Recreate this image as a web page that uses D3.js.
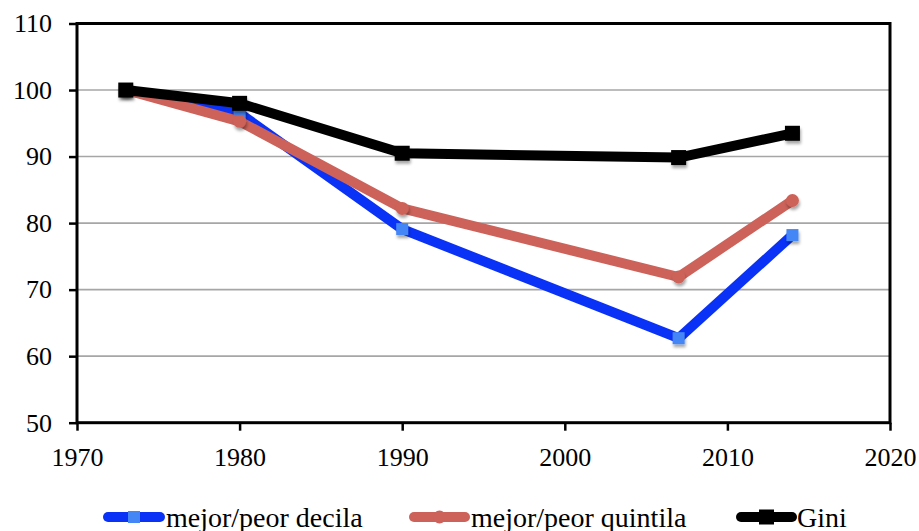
<!DOCTYPE html>
<html>
<head>
<meta charset="utf-8">
<script src="https://cdn.jsdelivr.net/npm/d3@7/dist/d3.min.js"></script>
<style>
  html, body { margin: 0; padding: 0; background: #fff; }
  svg { display: block; }
  text { font-family: "Liberation Serif", "DejaVu Serif", serif; fill: #000; }
</style>
</head>
<body>
<svg id="chart" width="919" height="531"></svg>
<script>
// Index values (1973 = 100)
const years = [1973, 1980, 1990, 2007, 2014];
const decila = [100, 96.5, 79.1, 62.7, 78.2];
const quintila = [100, 95.3, 82.2, 71.9, 83.4];
const gini = [100, 98.0, 90.5, 89.85, 93.5];

const seriesNames = ["mejor/peor decila", "mejor/peor quintila", "Gini"];
const xTicks = [1970, 1980, 1990, 2000, 2010, 2020];
const yTicks = [50, 60, 70, 80, 90, 100, 110];

const svg = d3.select("#chart");
const plot = { left: 77, right: 890, top: 23.5, bottom: 422.7 };

const x = d3.scaleLinear().domain([1970, 2020]).range([plot.left, plot.right]);
const y = d3.scaleLinear().domain([50, 110]).range([plot.bottom, plot.top]);

// Drop shadow for markers
const defs = svg.append("defs");
const f = defs.append("filter").attr("id", "shadow")
  .attr("x", "-50%").attr("y", "-50%").attr("width", "200%").attr("height", "200%");
f.append("feDropShadow").attr("dx", 1).attr("dy", 3)
  .attr("stdDeviation", 1.8).attr("flood-color", "#000").attr("flood-opacity", 0.35);

// Horizontal gridlines
svg.append("g").selectAll("line")
  .data(yTicks.filter(d => d > 50 && d < 110))
  .join("line")
  .attr("x1", plot.left).attr("x2", plot.right)
  .attr("y1", d => y(d)).attr("y2", d => y(d))
  .attr("stroke", "#a6a6a6").attr("stroke-width", 1.6);

// Axes
const yAxis = d3.axisLeft(y).tickValues(yTicks).tickSize(8).tickPadding(17);
const xAxis = d3.axisBottom(x).tickValues(xTicks).tickFormat(d3.format("d")).tickSize(8).tickPadding(17);

const gy = svg.append("g").attr("transform", `translate(${plot.left},0)`).call(yAxis);
const gx = svg.append("g").attr("transform", `translate(0,${plot.bottom})`).call(xAxis);
[gx, gy].forEach(g => {
  g.select(".domain").remove();
  g.selectAll(".tick line").attr("stroke", "#000").attr("stroke-width", 2.5);
  g.selectAll(".tick text").style("font-size", "26px").attr("fill", "#000");
});

// Plot frame
svg.append("rect")
  .attr("x", plot.left).attr("y", plot.top)
  .attr("width", plot.right - plot.left).attr("height", plot.bottom - plot.top)
  .attr("fill", "none").attr("stroke", "#000").attr("stroke-width", 3);

const series = [
  { name: seriesNames[0], values: decila, line: "#0a32f7", marker: "#4586f6", shape: "square", size: 12 },
  { name: seriesNames[1], values: quintila, line: "#cc6259", marker: "#cc6259", shape: "circle", size: 13 },
  { name: seriesNames[2], values: gini, line: "#000000", marker: "#000000", shape: "square", size: 15 }
];

const lineGen = d3.line().x(d => x(d.year)).y(d => y(d.value));

function drawMarker(g, shape, size, color, cx, cy) {
  if (shape === "square") {
    g.append("rect").attr("x", cx - size / 2).attr("y", cy - size / 2)
      .attr("width", size).attr("height", size).attr("fill", color);
  } else {
    g.append("circle").attr("cx", cx).attr("cy", cy).attr("r", size / 2).attr("fill", color);
  }
}

series.forEach(s => {
  const pts = years.map((yr, i) => ({ year: yr, value: s.values[i] }));
  svg.append("path").datum(pts)
    .attr("d", lineGen)
    .attr("fill", "none").attr("stroke", s.line)
    .attr("stroke-width", 10).attr("stroke-linejoin", "round");
  const mg = svg.append("g").attr("filter", "url(#shadow)");
  pts.forEach(p => drawMarker(mg, s.shape, s.size, s.marker, x(p.year), y(p.value)));
});

// Legend
const legendItems = [
  { s: series[0], x1: 108, x2: 160, tx: 166 },
  { s: series[1], x1: 414, x2: 465, tx: 471 },
  { s: series[2], x1: 741, x2: 792, tx: 797 }
];
const ly = 517;
legendItems.forEach(it => {
  const g = svg.append("g");
  g.append("line").attr("x1", it.x1).attr("x2", it.x2).attr("y1", ly).attr("y2", ly)
    .attr("stroke", it.s.line).attr("stroke-width", 10).attr("stroke-linecap", "round");
  drawMarker(g, it.s.shape, it.s.size, it.s.marker, (it.x1 + it.x2) / 2, ly);
  g.append("text").attr("x", it.tx).attr("y", 527)
    .style("font-size", "28px").text(it.s.name);
});
</script>
</body>
</html>
